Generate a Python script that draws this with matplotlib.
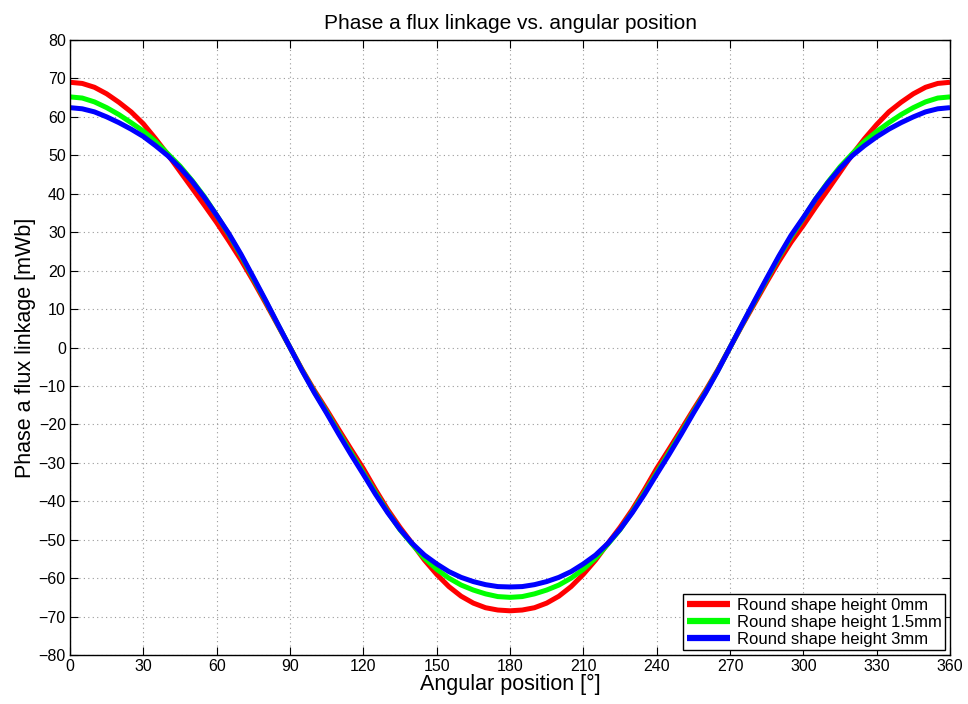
import matplotlib
matplotlib.use("Agg")
import matplotlib.pyplot as plt

plt.rcParams['font.family'] = ['Liberation Sans', 'DejaVu Sans']

angles = list(range(0, 365, 5))

red_0mm = [
    69.0, 68.7, 67.7, 66.0, 63.8, 61.3, 58.2, 54.3, 50.2, 45.8,
    41.4, 37.0, 32.5, 27.7, 22.7, 17.3, 11.6, 5.8, 0.0,
    -5.8, -11.2, -16.2, -21.4, -26.5, -31.5, -37.0, -42.2, -46.8,
    -51.0, -55.3, -59.0, -62.2, -64.7, -66.5, -67.7, -68.3, -68.5,
    -68.3, -67.7, -66.5, -64.7, -62.2, -59.0, -55.3, -51.0, -46.8,
    -42.2, -37.0, -31.5, -26.5, -21.4, -16.2, -11.2, -5.8, 0.0,
    5.8, 11.4, 17.0, 22.4, 27.4, 31.8, 36.5, 41.0, 45.6, 50.2,
    54.3, 58.0, 61.3, 63.8, 66.0, 67.7, 68.7, 69.0,
]

green_1p5mm = [
    65.2, 64.9, 63.9, 62.4, 60.6, 58.5, 56.3, 53.6, 50.4, 47.2,
    43.4, 39.2, 34.4, 29.4, 23.9, 18.0, 12.1, 6.0, 0.0,
    -6.0, -11.6, -16.8, -22.2, -27.4, -32.6, -37.8, -42.8, -47.4,
    -51.2, -54.8, -57.7, -60.0, -61.8, -63.1, -64.1, -64.8, -65.0,
    -64.8, -64.1, -63.1, -61.8, -60.0, -57.7, -54.8, -51.2, -47.4,
    -42.8, -37.8, -32.6, -27.4, -22.2, -16.8, -11.6, -6.0, 0.0,
    6.0, 11.9, 17.7, 23.5, 28.8, 33.6, 38.6, 43.0, 47.0, 50.4,
    53.6, 56.2, 58.5, 60.6, 62.4, 63.9, 64.9, 65.2,
]

blue_3mm = [
    62.4, 62.1, 61.3, 60.0, 58.5, 56.8, 54.9, 52.5, 49.9, 46.8,
    43.2, 39.0, 34.4, 29.6, 24.2, 18.3, 12.3, 6.1, 0.0,
    -6.1, -11.8, -17.1, -22.6, -27.9, -33.0, -38.2, -43.0, -47.3,
    -51.0, -54.0, -56.3, -58.3, -59.8, -60.9, -61.7, -62.2, -62.3,
    -62.2, -61.7, -60.9, -59.8, -58.3, -56.3, -54.0, -51.0, -47.3,
    -43.0, -38.2, -33.0, -27.9, -22.6, -17.1, -11.8, -6.1, 0.0,
    6.1, 12.1, 18.0, 23.8, 29.2, 33.8, 38.6, 42.8, 46.6, 49.9,
    52.5, 54.8, 56.8, 58.5, 60.0, 61.3, 62.1, 62.4,
]

series_labels = ["Round shape height 0mm", "Round shape height 1.5mm", "Round shape height 3mm"]
series_colors = ["#ff0000", "#00ff00", "#0000ff"]
x_ticks = list(range(0, 361, 30))
y_ticks = list(range(-80, 81, 10))

fig = plt.figure(figsize=(9.68, 7.04), dpi=100)
ax = fig.add_axes([70/968, 1-655/704, 880/968, 615/704])

for vals, lab, col in zip([red_0mm, green_1p5mm, blue_3mm], series_labels, series_colors):
    ax.plot(angles, vals, color=col, lw=3.6, label=lab, solid_capstyle='butt')

ax.set_xlim(0, 360)
ax.set_ylim(-80, 80)
ax.set_xticks(x_ticks)
ax.set_yticks(y_ticks)
ax.tick_params(direction='in', top=True, right=True, length=6, width=0.8,
               labelsize=11.5, pad=3)
ax.grid(True, linestyle=(0, (1, 3)), color='#999999', linewidth=0.8)
for s in ax.spines.values():
    s.set_linewidth(1.0)

ax.set_title("Phase a flux linkage vs. angular position", fontsize=15, pad=8)
ax.set_xlabel("Angular position [°]", fontsize=15.5, labelpad=0)
ax.set_ylabel("Phase a flux linkage [mWb]", fontsize=15.5, labelpad=2)

leg = ax.legend(loc='lower right', fontsize=12, frameon=True, fancybox=False,
                framealpha=1, edgecolor='black', borderaxespad=0.3,
                handlelength=2.6, labelspacing=0.12, borderpad=0.2, handletextpad=0.4)
leg.get_frame().set_linewidth(1.0)
for h in leg.get_lines():
    h.set_linewidth(4.5)

fig.savefig("out.png", dpi=100)
